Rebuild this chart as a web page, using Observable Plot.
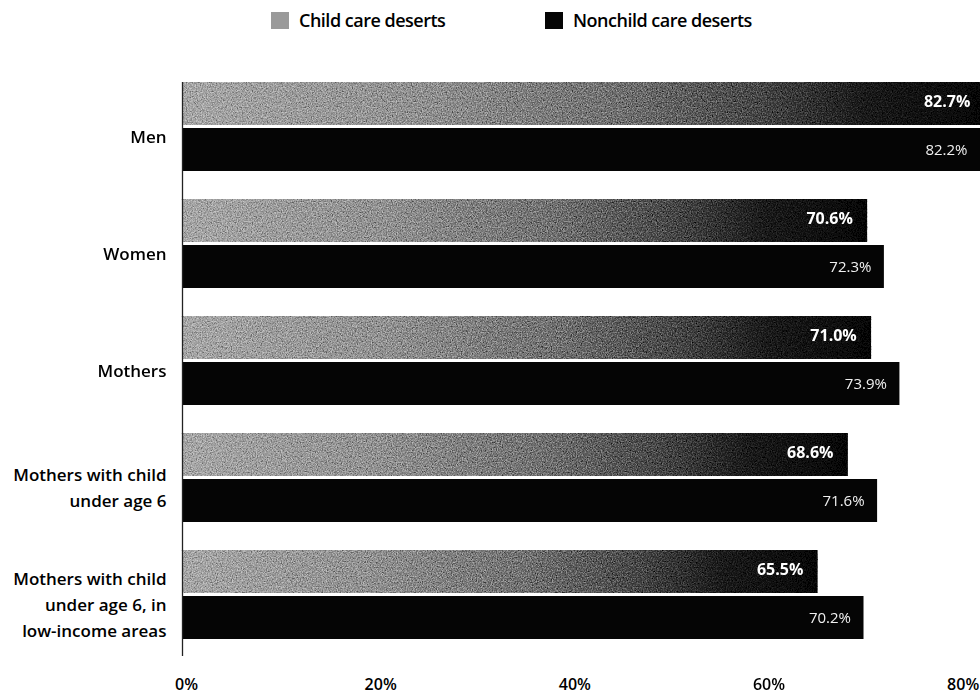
<!DOCTYPE html>
<html>
<head>
<meta charset="utf-8">
<script src="https://cdn.jsdelivr.net/npm/d3@7"></script>
<script src="https://cdn.jsdelivr.net/npm/@observablehq/plot@0.6"></script>
<style>
  html, body { margin: 0; padding: 0; background: #fff; overflow: hidden; }
  body { width: 980px; height: 696px; font-family: "Open Sans", sans-serif; }
  #legend { position: relative; height: 60px; width: 980px; }
  .item { position: absolute; top: 8px; display: flex; align-items: center; font-size: 18px; font-weight: 600; letter-spacing: -0.5px; color: #000; }
  .sw { width: 18px; height: 17px; margin-right: 10px; }
  #chart svg { display: block; }
</style>
</head>
<body>
<div id="legend">
  <div class="item" style="left:271px"><span class="sw" style="background:#9a9a9a"></span>Child care deserts</div>
  <div class="item" style="left:545px"><span class="sw" style="background:#050505"></span>Nonchild care deserts</div>
</div>
<div id="chart"></div>
<script>
const categories = ["Men", "Women", "Mothers", "Mothers with child under age 6", "Mothers with child under age 6, in low-income areas"];
const categoryLabels = ["Men", "Women", "Mothers", "Mothers with child\nunder age 6", "Mothers with child\nunder age 6, in\nlow-income areas"];
const series = ["Child care deserts", "Nonchild care deserts"];
const childCare = [82.7, 70.6, 71.0, 68.6, 65.5];
const nonChildCare = [82.2, 72.3, 73.9, 71.6, 70.2];
const xTicks = [0, 20, 40, 60, 80];

const childRows = categories.map((c, i) => ({category: c, series: series[0], value: childCare[i]}));
const nonRows = categories.map((c, i) => ({category: c, series: series[1], value: nonChildCare[i]}));
const labelRows = categories.map((c, i) => ({category: c, label: categoryLabels[i]}));

const plot = Plot.plot({
  width: 980,
  height: 636,
  marginTop: 20,
  marginBottom: 54,
  marginLeft: 182,
  marginRight: 0,
  style: {fontFamily: "Open Sans, sans-serif", background: "white"},
  x: {domain: [0, 82.2], axis: null, label: null},
  y: {domain: series, paddingInner: 0.06, paddingOuter: 0, axis: null, label: null},
  fy: {domain: categories, paddingInner: 0.23, paddingOuter: 0, axis: null, label: null},
  marks: [
    Plot.barX(childRows, {x: "value", y: "series", fy: "category", fill: "url(#childGrad)"}),
    Plot.barX(nonRows, {x: "value", y: "series", fy: "category", fill: "#050505"}),
    Plot.text(childRows, {x: "value", y: "series", fy: "category", text: d => d.value.toFixed(1) + "%", textAnchor: "end", dx: -15, dy: -2, fill: "white", fontWeight: 700, fontSize: 16}),
    Plot.text(nonRows, {x: "value", y: "series", fy: "category", text: d => d.value.toFixed(1) + "%", textAnchor: "end", dx: -13, fill: "#f0f0f0", fontWeight: 400, fontSize: 15, letterSpacing: "1.2px"}),
    Plot.text(labelRows, {fy: "category", text: "label", frameAnchor: "left", textAnchor: "end", dx: -16, dy: 7, fontSize: 17, fontWeight: 600, lineHeight: 1.55, fill: "#000", letterSpacing: "-0.5px"}),
    Plot.ruleX(labelRows.slice(0, 4), {x: () => 0, fy: "category", insetBottom: -28, stroke: "#222", strokeWidth: 1.3}),
    Plot.ruleX(labelRows.slice(4), {x: () => 0, fy: "category", insetBottom: -16, stroke: "#222", strokeWidth: 1.3}),
    Plot.axisX(xTicks, {anchor: "bottom", facetAnchor: "bottom", label: null, tickSize: 0, tickPadding: 38, tickFormat: d => d + "%", fontSize: 16, fontWeight: 600, dx: 4})
  ]
});

const svg = d3.select(plot);
const defs = svg.insert("defs", ":first-child");
const grad = defs.append("linearGradient").attr("id", "childGrad").attr("x1", "0").attr("x2", "1").attr("y1", "0").attr("y2", "0");
[[0, "#a6a6a6"], [0.3, "#8f8f8f"], [0.55, "#6c6c6c"], [0.72, "#424242"], [0.85, "#181818"], [1, "#050505"]]
  .forEach(([o, c]) => grad.append("stop").attr("offset", o).attr("stop-color", c));
const f = defs.append("filter").attr("id", "grain").attr("x", 0).attr("y", 0).attr("width", "100%").attr("height", "100%");
f.append("feTurbulence").attr("type", "fractalNoise").attr("baseFrequency", 0.8).attr("numOctaves", 2).attr("seed", 4).attr("result", "n");
f.append("feColorMatrix").attr("in", "n").attr("type", "matrix")
  .attr("values", "1.2 1.2 0 0 -0.7  1.2 1.2 0 0 -0.7  1.2 1.2 0 0 -0.7  0 0 0 0 1").attr("result", "g");
f.append("feBlend").attr("in", "g").attr("in2", "SourceGraphic").attr("mode", "soft-light").attr("result", "b");
f.append("feComposite").attr("in", "b").attr("in2", "SourceGraphic").attr("operator", "in");
svg.selectAll("g[aria-label='bar']").filter((d, i) => i === 0).attr("filter", "url(#grain)");

document.getElementById("chart").appendChild(plot);
</script>
</body>
</html>
